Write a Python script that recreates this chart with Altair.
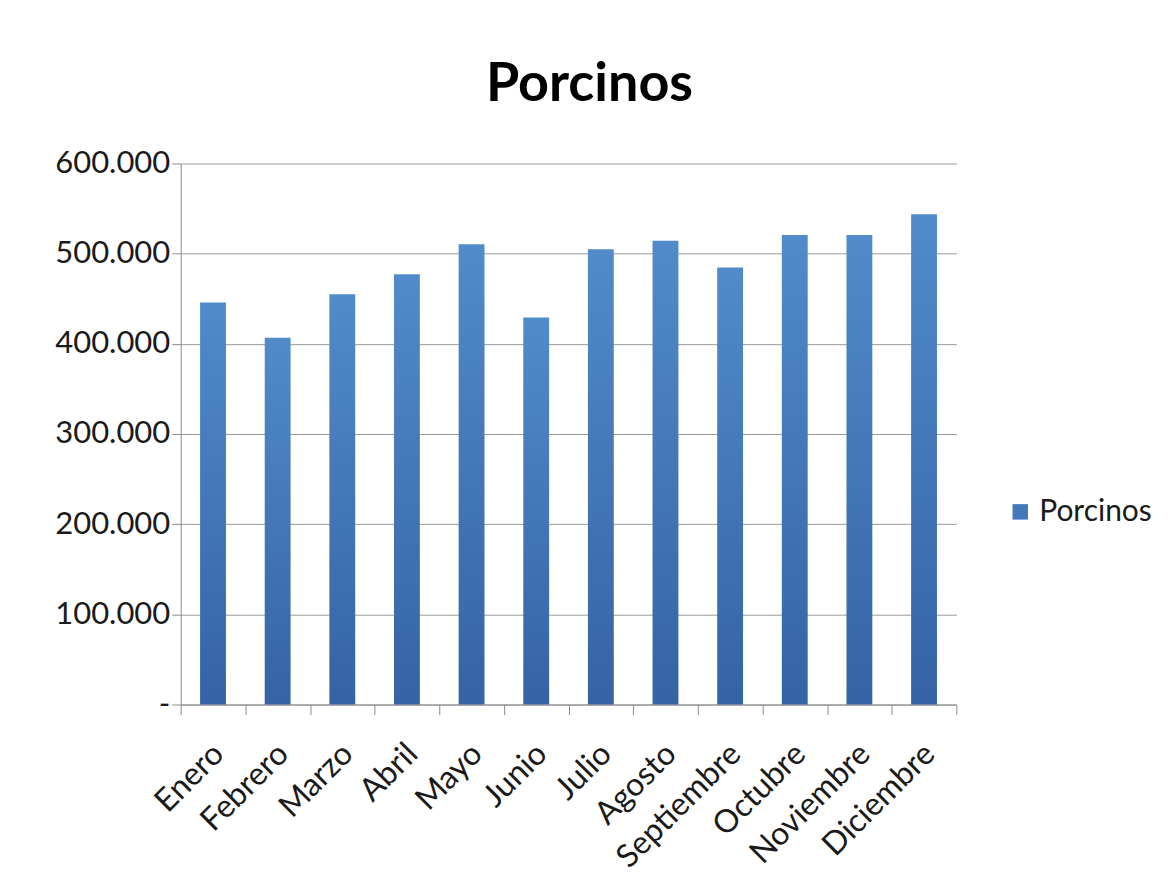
import altair as alt
import pandas as pd

meses = ["Enero", "Febrero", "Marzo", "Abril", "Mayo", "Junio", "Julio",
         "Agosto", "Septiembre", "Octubre", "Noviembre", "Diciembre"]
porcinos = [445900, 406800, 455100, 477200, 510400, 429300, 504900,
            514200, 484600, 520800, 520800, 543600]
y_ticks = [0, 100000, 200000, 300000, 400000, 500000, 600000]

df = pd.DataFrame({"Mes": meses, "Valor": porcinos, "Serie": ["Porcinos"] * len(meses)})

FONT = "Lato"
TXT = "#1a1a1a"
AX = "#8c8c8c"

grad = alt.LinearGradient(
    gradient="linear",
    stops=[alt.GradientStop(color="#518bc9", offset=0),
           alt.GradientStop(color="#3563a5", offset=1)],
    x1=0, x2=0, y1=0, y2=1,
)

x_enc = alt.X("Mes:N", sort=meses, title=None,
              scale=alt.Scale(paddingInner=0, paddingOuter=0),
              axis=alt.Axis(labelAngle=-45, labelFont=FONT, labelFontSize=32,
                            labelColor=TXT, labelAlign="right", labelBaseline="middle",
                            labelPadding=34, labelOffset=5, tickBand="extent",
                            tickSize=10, tickColor=AX, domainColor=AX, grid=False,
                            labelOverlap=False))
y_enc = alt.Y("Valor:Q", title=None,
              scale=alt.Scale(domain=[0, 600000], nice=False),
              axis=alt.Axis(values=y_ticks, labelFont=FONT, labelFontSize=31,
                            labelColor=TXT, tickSize=9, tickColor=AX,
                            domainColor=AX, gridColor="#9a9a9a",
                            labelPadding=2,
                            labelExpr="datum.value == 0 ? '-' : replace(format(datum.value, ',.0f'), ',', '.')"))

bars = alt.Chart(df).mark_bar(color=grad, width=alt.RelativeBandSize(0.4)).encode(x=x_enc, y=y_enc)

legend_layer = alt.Chart(df).mark_square(size=0, opacity=0).encode(
    x=alt.X("Mes:N", sort=meses),
    y=alt.Y("Valor:Q"),
    fill=alt.Fill("Serie:N", title=None,
                  scale=alt.Scale(range=["#4279bb"]),
                  legend=alt.Legend(orient="none", legendX=826, legendY=334,
                                    symbolType="square", symbolSize=240,
                                    symbolOpacity=1, symbolStrokeWidth=0,
                                    labelFont=FONT, labelFontSize=30, labelColor=TXT,
                                    labelOffset=4)),
)

chart = alt.layer(bars, legend_layer).properties(
    width=777, height=542,
    title=alt.TitleParams("Porcinos", font=FONT, fontSize=54, fontWeight="bold",
                          color="#000000", anchor="middle", dx=21, offset=36),
    padding={"left": 46, "top": 49, "right": 10, "bottom": 0},
    background="white",
).configure_view(stroke=None)

chart.save("out.html", embed_options={"renderer": "svg", "actions": False})
